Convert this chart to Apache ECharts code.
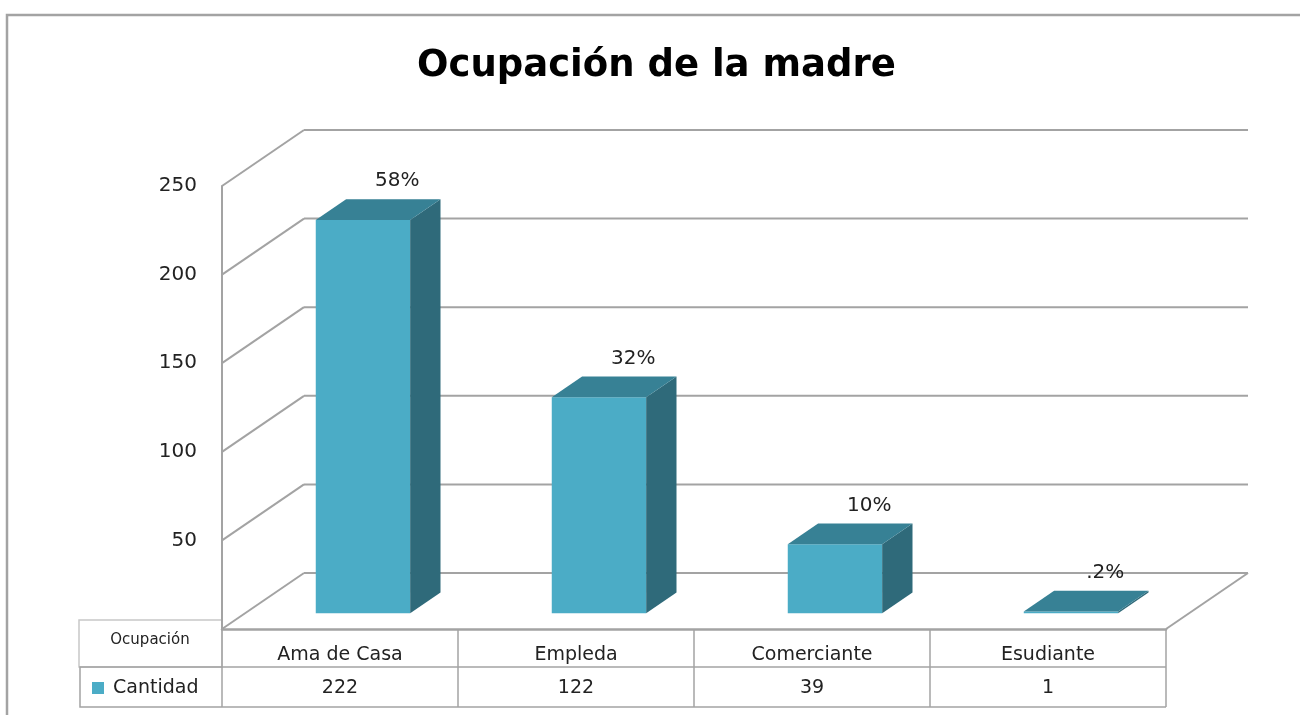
<!DOCTYPE html>
<html>
<head>
<meta charset="utf-8">
<title>Ocupación de la madre</title>
<script src="https://cdn.jsdelivr.net/npm/echarts@6/dist/echarts.min.js"></script>
<style>
html, body { margin: 0; padding: 0; background: #fff; }
#chart { width: 1300px; height: 715px; }
</style>
</head>
<body>
<div id="chart"></div>
<script>
// datos
var categorias = ['Ama de Casa', 'Empleda', 'Comerciante', 'Esudiante'];
var cantidad = [222, 122, 39, 1];
var porcentajes = ['58%', '32%', '10%', '.2%'];
var yTicks = [0, 50, 100, 150, 200, 250];

var FONT = 'DejaVu Sans';
var TXT = '#222';
var LINE = '#a3a3a3';
var FRONT = '#4bacc6', TOP = '#378195', SIDE = '#2f6a7a';
var DX = 82, DY = -56;          // profundidad del piso 3D
var BAR_F = 0.28, BAR_D = 0.37; // posicion y fondo de la barra en la profundidad

function ln(x1, y1, x2, y2, color, w) {
    return {type: 'line', shape: {x1: x1, y1: y1, x2: x2, y2: y2},
            style: {stroke: color || LINE, lineWidth: w || 2}};
}

// paredes: lineas de la pared izquierda, fondo y piso
function wallItem(params, api) {
    var cs = params.coordSys;
    var v = api.value(1);
    var y = api.coord([0, v])[1];
    var x0 = cs.x, x1 = cs.x + cs.width;
    var kids = [
        ln(x0, y, x0 + DX, y + DY),
        ln(x0 + DX, y + DY, x1 + DX, y + DY)
    ];
    if (v === 0) kids.push(ln(x1 + DX, y + DY, x1, y));
    return {type: 'group', children: kids};
}

// barras 3D
function barItem(params, api) {
    var i = api.value(0);
    var base = api.coord([i, 0]);
    var top = api.coord([i, api.value(1)]);
    var band = api.size([1, 0])[0];
    var w = band * 0.4;
    var fx = DX * BAR_F, fy = DY * BAR_F;
    var bx = DX * BAR_D, by = DY * BAR_D;
    var l = base[0] - w / 2 + fx, r = l + w;
    var yb = base[1] + fy, yt = top[1] + fy;
    return {type: 'group', children: [
        {type: 'rect', shape: {x: l, y: yt, width: w, height: yb - yt}, style: {fill: FRONT}},
        {type: 'polygon', shape: {points: [[r, yt], [r + bx, yt + by], [r + bx, yb + by], [r, yb]]},
         style: {fill: SIDE}},
        {type: 'polygon', shape: {points: [[l, yt], [r, yt], [r + bx, yt + by], [l + bx, yt + by]]},
         style: {fill: TOP}},
        {type: 'text', style: {text: porcentajes[params.dataIndex], x: l + bx + w / 2 + 4, y: yt + by - 8,
         align: 'center', verticalAlign: 'bottom', fontFamily: FONT, fontSize: 20, fill: TXT}}
    ]};
}

// tabla de datos bajo el eje
function tableItem(params, api) {
    var i = api.value(0);
    var base = api.coord([i, 0]);
    var band = api.size([1, 0])[0];
    var l = base[0] - band / 2, r = base[0] + band / 2;
    var y0 = base[1], y1 = y0 + 38, y2 = y1 + 40;
    var kids = [
        ln(r, y0, r, y2, LINE, 1.5),
        ln(l, y1, r, y1, LINE, 1.5),
        ln(l, y2, r, y2, LINE, 1.5),
        {type: 'text', style: {text: categorias[params.dataIndex], x: base[0], y: (y0 + y1) / 2 + 7,
         align: 'center', verticalAlign: 'middle', fontFamily: FONT, fontSize: 19, fill: TXT}},
        {type: 'text', style: {text: String(api.value(1)), x: base[0], y: (y1 + y2) / 2 + 1,
         align: 'center', verticalAlign: 'middle', fontFamily: FONT, fontSize: 19, fill: TXT}}
    ];
    if (i === 0) kids.push(ln(l, y0, l, y2, LINE, 1.5));
    return {type: 'group', children: kids};
}

var option = {
    animation: false,
    backgroundColor: '#fff',
    title: {
        text: 'Ocupación de la madre',
        left: 412, top: 43,
        textStyle: {fontFamily: FONT, fontWeight: 'bold', fontSize: 37, color: '#000'}
    },
    grid: {left: 222, right: 134, top: 186, bottom: 86},
    xAxis: {
        type: 'category', data: categorias,
        axisLine: {show: true, lineStyle: {color: LINE, width: 2.5}},
        axisTick: {show: false}, axisLabel: {show: false}
    },
    yAxis: {
        type: 'value', min: 0, max: 250, interval: 50,
        axisLine: {show: true, lineStyle: {color: LINE, width: 2}},
        axisTick: {show: false},
        splitLine: {show: false},
        axisLabel: {showMinLabel: false, margin: 25, fontFamily: FONT, fontSize: 20, color: TXT}
    },
    graphic: [
        {type: 'polyline', shape: {points: [[7, 715], [7, 15], [1300, 15]]},
         style: {stroke: LINE, lineWidth: 2.5, fill: null}},
        {type: 'rect', shape: {x: 79, y: 620, width: 143, height: 47},
         style: {fill: '#fff', stroke: '#c8c8c8', lineWidth: 1.5}},
        {type: 'text', x: 150, y: 640, style: {text: 'Ocupación', align: 'center', verticalAlign: 'middle',
         fontFamily: FONT, fontSize: 15, fill: TXT}},
        {type: 'polyline', shape: {points: [[222, 707], [80, 707], [80, 667], [222, 667]]},
         style: {stroke: LINE, lineWidth: 1.5, fill: null}},
        {type: 'rect', shape: {x: 92, y: 682, width: 12, height: 12}, style: {fill: FRONT}},
        {type: 'text', x: 113, y: 688, style: {text: 'Cantidad', align: 'left', verticalAlign: 'middle',
         fontFamily: FONT, fontSize: 19, fill: TXT}}
    ],
    series: [
        {type: 'custom', name: 'paredes', renderItem: wallItem, clip: false, silent: true, z: 1,
         data: yTicks.map(function (v) { return [0, v]; })},
        {type: 'custom', name: 'tabla', renderItem: tableItem, clip: false, silent: true, z: 1,
         data: cantidad.map(function (v, i) { return [i, v]; })},
        {type: 'custom', name: 'Cantidad', renderItem: barItem, clip: false, z: 3,
         data: cantidad.map(function (v, i) { return [i, v]; })}
    ]
};

var chart = echarts.init(document.getElementById('chart'));
chart.setOption(option);
</script>
</body>
</html>
